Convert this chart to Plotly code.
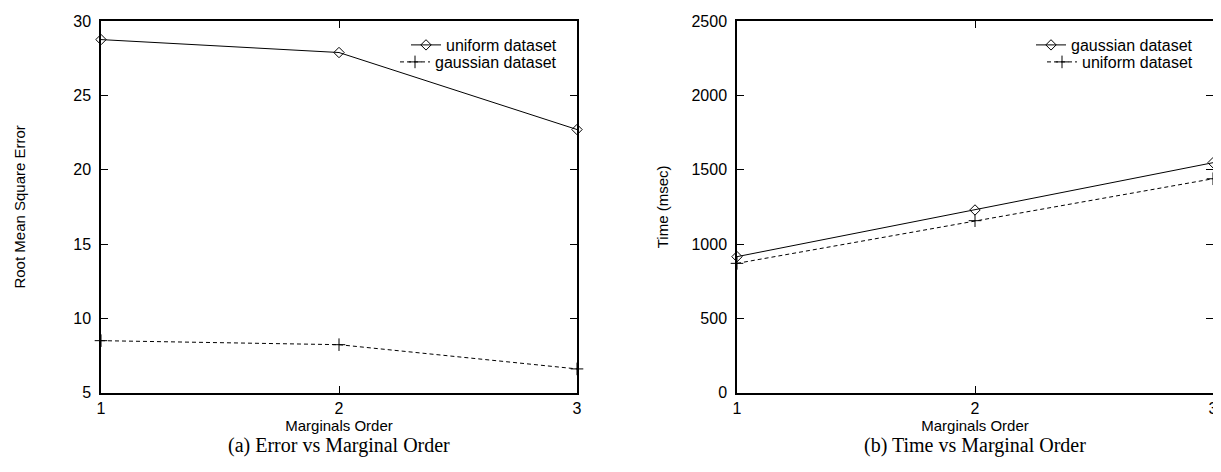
import plotly.graph_objects as go

# ---- data ----
orders = [1, 2, 3]
x_ticks = [1, 2, 3]

rmse_uniform = [28.75, 27.88, 22.7]
rmse_gaussian = [8.5, 8.23, 6.6]

time_gaussian = [915, 1229, 1547]
time_uniform = [870, 1157, 1439]

left_yticks = [5, 10, 15, 20, 25, 30]
right_yticks = [0, 500, 1000, 1500, 2000, 2500]

# page has an 8px body margin, so figure coords = page coords - 8
OFF = 8
W, H = 1221 - OFF, 472 - 2 * OFF
SANS = "Liberation Sans, Arial, sans-serif"
SERIF = "Liberation Serif, Times New Roman, serif"


def px(xp):
    return (xp - OFF) / W


def py(yp):
    return 1 - (yp - OFF) / H


fig = go.Figure()

solid = dict(color="black", width=1)
dashed = dict(color="black", width=1, dash="4px,3px")
diamond = dict(symbol="diamond-open", size=8, color="black", line=dict(width=1, color="black"))
plus = dict(symbol="cross-thin-open", size=9, color="black", line=dict(width=1, color="black"))

fig.add_trace(go.Scatter(x=orders, y=rmse_uniform, name="uniform dataset", mode="lines+markers",
                         line=solid, marker=diamond, xaxis="x", yaxis="y", legend="legend", cliponaxis=False))
fig.add_trace(go.Scatter(x=orders, y=rmse_gaussian, name="gaussian dataset", mode="lines+markers",
                         line=dashed, marker=plus, xaxis="x", yaxis="y", legend="legend2", cliponaxis=False))
fig.add_trace(go.Scatter(x=orders, y=time_gaussian, name="gaussian dataset", mode="lines+markers",
                         line=solid, marker=diamond, xaxis="x2", yaxis="y2", legend="legend3", cliponaxis=False))
fig.add_trace(go.Scatter(x=orders, y=time_uniform, name="uniform dataset", mode="lines+markers",
                         line=dashed, marker=plus, xaxis="x2", yaxis="y2", legend="legend4", cliponaxis=False))

ydom = [py(392.7), py(21)]
xdom1 = [px(101), px(577)]
xdom2 = [px(737), px(1213)]

axis_common = dict(
    showline=True, linecolor="black", linewidth=1.5, mirror="ticks",
    ticks="inside", ticklen=7, tickwidth=1, tickcolor="black",
    showgrid=False, zeroline=False, automargin=False,
    tickfont=dict(family=SANS, size=16, color="black"),
)
title_font = dict(family=SANS, size=15, color="black")


def leg(xp, yp):
    return dict(x=px(xp), y=py(yp), xanchor="right", yanchor="middle",
                bgcolor="rgba(0,0,0,0)", font=dict(family=SANS, size=16, color="black"),
                tracegroupgap=0, itemwidth=30, borderwidth=0)


fig.update_layout(
    template="none",
    width=W, height=H,
    margin=dict(l=0, r=0, t=0, b=0, pad=0),
    paper_bgcolor="white", plot_bgcolor="white",
    showlegend=True,
    xaxis=dict(domain=xdom1, range=[1, 3], tickvals=x_ticks, anchor="y",
               ticklabelstandoff=0,
               title=dict(text="Marginals Order", font=title_font, standoff=0),
               **axis_common),
    yaxis=dict(domain=ydom, range=[5, 30], tickvals=left_yticks, anchor="x",
               ticklabelstandoff=5,
               title=dict(text="Root Mean Square Error", font=title_font, standoff=44),
               **axis_common),
    xaxis2=dict(domain=xdom2, range=[1, 3], tickvals=x_ticks, anchor="y2",
                ticklabelstandoff=0,
                title=dict(text="Marginals Order", font=title_font, standoff=0),
                **axis_common),
    yaxis2=dict(domain=ydom, range=[0, 2500], tickvals=right_yticks, anchor="x2",
                ticklabelstandoff=5,
                title=dict(text="Time (msec)", font=title_font, standoff=19),
                **axis_common),
    legend=leg(562, 45),
    legend2=leg(562, 62),
    legend3=leg(1198, 45),
    legend4=leg(1198, 62),
    annotations=[
        dict(text="(a) Error vs Marginal Order", x=(xdom1[0] + xdom1[1]) / 2, y=py(445),
             xref="paper", yref="paper", showarrow=False, xanchor="center", yanchor="middle",
             font=dict(family=SERIF, size=20, color="black")),
        dict(text="(b) Time vs Marginal Order", x=(xdom2[0] + xdom2[1]) / 2, y=py(445),
             xref="paper", yref="paper", showarrow=False, xanchor="center", yanchor="middle",
             font=dict(family=SERIF, size=20, color="black")),
    ],
)

fig.write_html("out.html")
